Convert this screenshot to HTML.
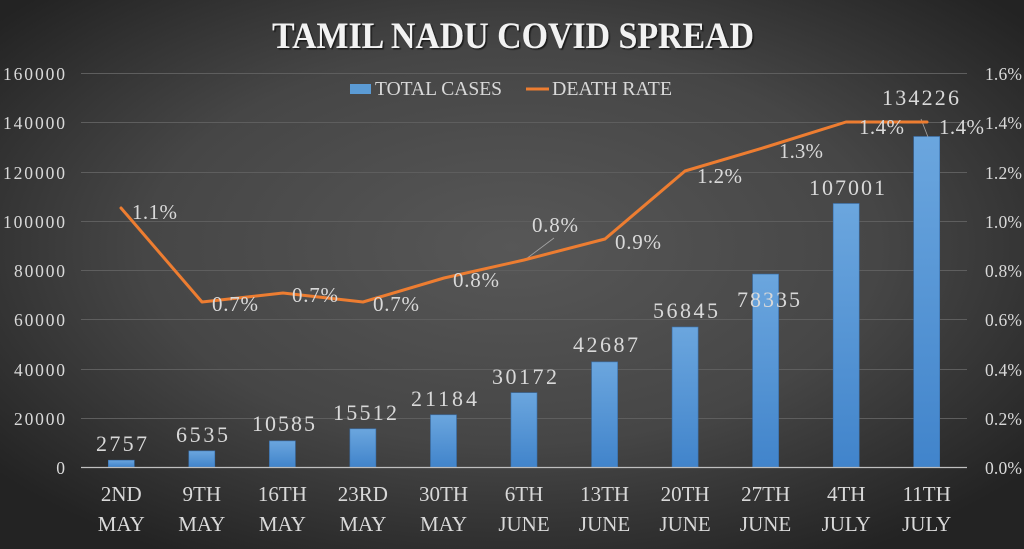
<!DOCTYPE html>
<html><head><meta charset="utf-8"><style>
html,body{margin:0;padding:0;width:1024px;height:549px;overflow:hidden;background:#333;}
svg{display:block;}
text{font-family:"Liberation Serif",serif;fill:#d9d9d9;}
</style></head><body>
<svg width="1024" height="549" viewBox="0 0 1024 549" xmlns="http://www.w3.org/2000/svg">
<defs>
<radialGradient id="bg" cx="50%" cy="45%" r="65%" gradientUnits="objectBoundingBox">
<stop offset="0" stop-color="#575757"/>
<stop offset="0.55" stop-color="#464646"/>
<stop offset="1" stop-color="#232323"/>
</radialGradient>
<linearGradient id="bar" x1="0" y1="0" x2="0" y2="1">
<stop offset="0" stop-color="#6ba6de"/>
<stop offset="1" stop-color="#4184cb"/>
</linearGradient>
<filter id="sh" x="-5%" y="-20%" width="110%" height="140%">
<feDropShadow dx="1.5" dy="1.5" stdDeviation="0.6" flood-color="#000" flood-opacity="0.6"/>
</filter>
</defs>
<rect x="0" y="0" width="1024" height="549" fill="url(#bg)"/>

<!-- gridlines -->
<g stroke="#5e5e5e" stroke-width="1">
<line x1="81" y1="73.5" x2="967" y2="73.5"/>
<line x1="81" y1="122.5" x2="967" y2="122.5"/>
<line x1="81" y1="172.5" x2="967" y2="172.5"/>
<line x1="81" y1="221.5" x2="967" y2="221.5"/>
<line x1="81" y1="270.5" x2="967" y2="270.5"/>
<line x1="81" y1="319.5" x2="967" y2="319.5"/>
<line x1="81" y1="369.5" x2="967" y2="369.5"/>
<line x1="81" y1="418.5" x2="967" y2="418.5"/>
</g>

<!-- bars -->
<g fill="url(#bar)" stroke="#3a72b0" stroke-width="0.6">
<rect x="108.3" y="460.2" width="26" height="6.8"/>
<rect x="188.8" y="450.9" width="26" height="16.1"/>
<rect x="269.4" y="440.9" width="26" height="26.1"/>
<rect x="349.9" y="428.8" width="26" height="38.2"/>
<rect x="430.5" y="414.8" width="26" height="52.2"/>
<rect x="511" y="392.7" width="26" height="74.3"/>
<rect x="591.6" y="361.9" width="26" height="105.1"/>
<rect x="672.1" y="327.0" width="26" height="140"/>
<rect x="752.6" y="274.1" width="26" height="192.9"/>
<rect x="833.2" y="203.5" width="26" height="263.5"/>
<rect x="913.7" y="136.5" width="26" height="330.5"/>
</g>

<!-- axis line -->
<line x1="81" y1="467.5" x2="967" y2="467.5" stroke="#bfbfbf" stroke-width="1.2"/>

<!-- leader lines -->
<line x1="526" y1="259" x2="554" y2="238" stroke="#a6a6a6" stroke-width="0.8"/>
<line x1="921" y1="119" x2="928" y2="137" stroke="#a6a6a6" stroke-width="0.8"/>

<!-- death rate line -->
<polyline fill="none" stroke="#ed7d31" stroke-width="3" stroke-linejoin="round" stroke-linecap="round"
points="121,208 202,302 283,293 363,302 444,278 524,260 605,239 685,171 766,147 846,122 927,122"/>

<!-- title -->
<text x="272" y="48" font-size="37" font-weight="bold" fill="#f2f2f2" textLength="482" lengthAdjust="spacingAndGlyphs" filter="url(#sh)" style="fill:#f2f2f2">TAMIL NADU COVID SPREAD</text>

<!-- legend -->
<rect x="350" y="84" width="21" height="10" fill="#5b9bd5"/>
<text x="375" y="95" font-size="20" textLength="127" lengthAdjust="spacingAndGlyphs">TOTAL CASES</text>
<line x1="526" y1="89" x2="549" y2="89" stroke="#ed7d31" stroke-width="3"/>
<text x="552" y="95" font-size="20" textLength="120" lengthAdjust="spacingAndGlyphs">DEATH RATE</text>

<!-- left axis labels -->
<g font-size="17.5" text-anchor="end">
<text x="65" y="80" textLength="62">160000</text>
<text x="65" y="129" textLength="62">140000</text>
<text x="65" y="179" textLength="62">120000</text>
<text x="65" y="228" textLength="62">100000</text>
<text x="65" y="277" textLength="51">80000</text>
<text x="65" y="326" textLength="51">60000</text>
<text x="65" y="376" textLength="51">40000</text>
<text x="65" y="425" textLength="51">20000</text>
<text x="65" y="474">0</text>
</g>

<!-- right axis labels -->
<g font-size="17.5">
<text x="985" y="80" textLength="37">1.6%</text>
<text x="985" y="129" textLength="37">1.4%</text>
<text x="985" y="179" textLength="37">1.2%</text>
<text x="985" y="228" textLength="37">1.0%</text>
<text x="985" y="277" textLength="37">0.8%</text>
<text x="985" y="326" textLength="37">0.6%</text>
<text x="985" y="376" textLength="37">0.4%</text>
<text x="985" y="425" textLength="37">0.2%</text>
<text x="985" y="474" textLength="37">0.0%</text>
</g>

<!-- category labels -->
<g font-size="21" text-anchor="middle">
<text x="121.3" y="501">2ND</text><text x="121.3" y="531">MAY</text>
<text x="201.8" y="501">9TH</text><text x="201.8" y="531">MAY</text>
<text x="282.4" y="501">16TH</text><text x="282.4" y="531">MAY</text>
<text x="362.9" y="501">23RD</text><text x="362.9" y="531">MAY</text>
<text x="443.5" y="501">30TH</text><text x="443.5" y="531">MAY</text>
<text x="524" y="501">6TH</text><text x="524" y="531">JUNE</text>
<text x="604.6" y="501">13TH</text><text x="604.6" y="531">JUNE</text>
<text x="685.1" y="501">20TH</text><text x="685.1" y="531">JUNE</text>
<text x="765.6" y="501">27TH</text><text x="765.6" y="531">JUNE</text>
<text x="846.2" y="501">4TH</text><text x="846.2" y="531">JULY</text>
<text x="926.7" y="501">11TH</text><text x="926.7" y="531">JULY</text>
</g>

<!-- bar data labels -->
<g font-size="22" text-anchor="middle" lengthAdjust="spacing">
<text x="121.5" y="451" textLength="51">2757</text>
<text x="202" y="442" textLength="52">6535</text>
<text x="283.5" y="431" textLength="63">10585</text>
<text x="365" y="420" textLength="64">15512</text>
<text x="444" y="406" textLength="66">21184</text>
<text x="524.5" y="384" textLength="65">30172</text>
<text x="605.5" y="352" textLength="65">42687</text>
<text x="685.5" y="318" textLength="65">56845</text>
<text x="768.5" y="307" textLength="63">78335</text>
<text x="847" y="195" textLength="76">107001</text>
<text x="920.5" y="105" textLength="77">134226</text>
</g>

<!-- line data labels -->
<g font-size="21">
<text x="132" y="219" textLength="45">1.1%</text>
<text x="212" y="311" textLength="46">0.7%</text>
<text x="292" y="302" textLength="46">0.7%</text>
<text x="373" y="311" textLength="46">0.7%</text>
<text x="453" y="287" textLength="46">0.8%</text>
<text x="532" y="232" textLength="46">0.8%</text>
<text x="615" y="249" textLength="46">0.9%</text>
<text x="697" y="183" textLength="45">1.2%</text>
<text x="779" y="158" textLength="44">1.3%</text>
<text x="859" y="134" textLength="45">1.4%</text>
<text x="939" y="134" textLength="45">1.4%</text>
</g>
</svg>
</body></html>
